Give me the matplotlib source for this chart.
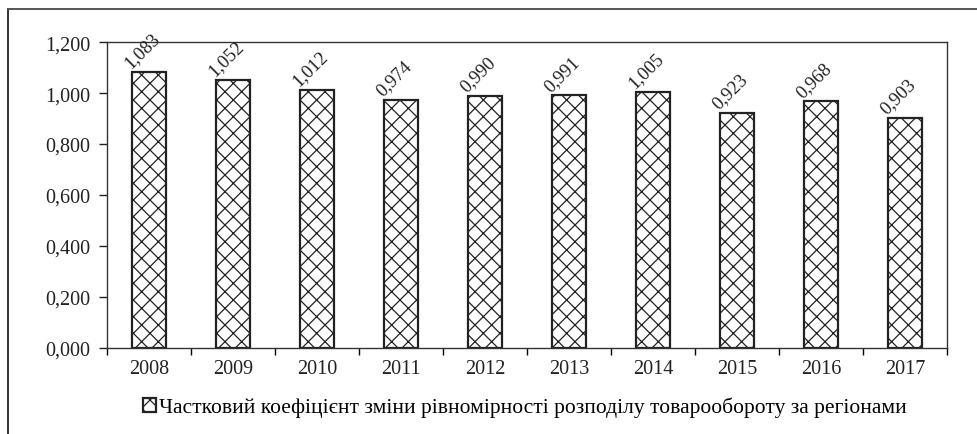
import matplotlib.pyplot as plt
from matplotlib.lines import Line2D
import numpy as np

plt.rcParams['font.family'] = ['Liberation Serif', 'DejaVu Serif']
plt.rcParams['hatch.linewidth'] = 0.9

years = ['2008', '2009', '2010', '2011', '2012', '2013', '2014', '2015', '2016', '2017']
values = [1.083, 1.052, 1.012, 0.974, 0.990, 0.991, 1.005, 0.923, 0.968, 0.903]
series_name = 'Частковий коефіцієнт зміни рівномірності розподілу товарообороту за регіонами'

fig = plt.figure(figsize=(9.78, 4.35), dpi=100)
ax = fig.add_axes([0.1094, 0.1977, 0.8589, 0.7033])

x = np.arange(len(years))
bars = ax.bar(x, values, width=0.41, color='white', edgecolor='#222222',
              linewidth=1.6, hatch='xx', label=series_name)

for xi, v in zip(x, values):
    ax.text(xi - 0.08, v + 0.003, f'{v:.3f}'.replace('.', ','), rotation=45,
            ha='center', va='bottom', fontsize=13.5, color='#222222')

ax.set_xlim(-0.5, len(years) - 0.5)
ax.set_ylim(0, 1.2)
yt = np.arange(0, 1.21, 0.2)
ax.set_yticks(yt)
ax.set_yticklabels([f'{t:.3f}'.replace('.', ',') for t in yt])
ax.set_xticks(x)
ax.set_xticklabels(years)
ax.set_xticks(np.arange(-0.5, len(years), 1), minor=True)
ax.tick_params(axis='x', which='major', length=0, pad=8)
ax.tick_params(axis='x', which='minor', length=5, direction='out', width=1.0)
ax.tick_params(axis='y', length=6, direction='out', width=1.0, pad=6)
ax.tick_params(labelsize=14.5, colors='#222222')
for s in ax.spines.values():
    s.set_linewidth(1.0)
    s.set_color('#333333')

leg = fig.legend(handles=[bars], loc='center', bbox_to_anchor=(0.537, 0.062),
                 frameon=False, fontsize=15.5, handlelength=0.6, handleheight=0.6,
                 handletextpad=0.15)

# outer frame (top and left visible)
fig.add_artist(Line2D([0.0082, 0.0082], [0.0, 0.976], transform=fig.transFigure,
                      color='#333333', linewidth=1.4))
fig.add_artist(Line2D([0.0082, 1.0], [0.976, 0.976], transform=fig.transFigure,
                      color='#555555', linewidth=1.4))

fig.savefig('out.png', dpi=100)
